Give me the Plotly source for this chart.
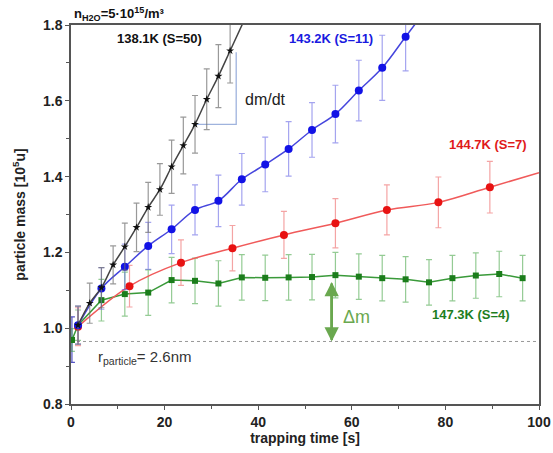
import plotly.graph_objects as go

# ---------------- data ----------------
black_x = [1.5, 4, 6.5, 9, 11.5, 14, 16.5, 19, 21.5, 24, 26.5, 29, 31.5, 34]
black_y = [1.008, 1.066, 1.107, 1.167, 1.215, 1.266, 1.319, 1.366, 1.426, 1.482, 1.538, 1.604, 1.665, 1.732]
black_e = [0.05, 0.053, 0.053, 0.05, 0.062, 0.064, 0.066, 0.068, 0.07, 0.075, 0.076, 0.08, 0.083, 0.085]

blue_x = [0.2, 1.5, 6.5, 11.5, 16.5, 21.5, 26.5, 31.5, 36.5, 41.5, 46.5, 51.5, 56.5, 61.5, 66.5, 71.5]
blue_y = [0.97, 1.008, 1.105, 1.162, 1.217, 1.261, 1.312, 1.336, 1.393, 1.432, 1.473, 1.523, 1.565, 1.627, 1.687, 1.769]
blue_e = [0.06, 0.05, 0.055, 0.06, 0.062, 0.064, 0.066, 0.068, 0.068, 0.072, 0.072, 0.072, 0.076, 0.08, 0.086, 0.09]

red_x = [1.5, 12.5, 23.5, 34.5, 45.5, 56.5, 67.5, 78.5, 89.5]
red_y = [1.004, 1.111, 1.173, 1.211, 1.246, 1.277, 1.312, 1.332, 1.372]
red_e = [0.05, 0.055, 0.06, 0.06, 0.062, 0.065, 0.066, 0.067, 0.068]

green_x = [0.2, 1.5, 6.5, 11.5, 16.5, 21.5, 26.5, 31.5, 36.5, 41.5, 46.5, 51.5, 56.5,
           61.5, 66.5, 71.5, 76.5, 81.5, 86.5, 91.5, 96.5]
green_y = [0.969, 1.008, 1.074, 1.09, 1.094, 1.127, 1.125, 1.118, 1.134, 1.133, 1.134, 1.135,
           1.140, 1.136, 1.132, 1.129, 1.121, 1.132, 1.139, 1.143, 1.132]
green_e = [0.03, 0.04, 0.055, 0.058, 0.06, 0.06, 0.06, 0.06, 0.06, 0.06, 0.06, 0.06, 0.06,
           0.06, 0.06, 0.06, 0.06, 0.06, 0.06, 0.06, 0.06]

baseline = 0.965
x_ticks = [0, 20, 40, 60, 80, 100]
y_ticks = [0.8, 1.0, 1.2, 1.4, 1.6, 1.8]

FONT = "Arial, Liberation Sans, sans-serif"


def extend(xs, ys, dx):
    """continue the fit line past the last point with the slope of the last segment"""
    slope = (ys[-1] - ys[-2]) / (xs[-1] - xs[-2])
    return xs + [xs[-1] + dx], ys + [ys[-1] + slope * dx]


fig = go.Figure()

# baseline (dotted)
fig.add_trace(go.Scatter(x=[0, 100], y=[baseline, baseline], mode="lines",
                         line=dict(color="#999999", width=1, dash="dot"),
                         hoverinfo="skip", showlegend=False))

# slope triangle for dm/dt
fig.add_trace(go.Scatter(x=[black_x[10], 35.3, 35.3], y=[black_y[10], black_y[10], 1.728],
                         mode="lines", line=dict(color="#9fb3dd", width=1.3),
                         hoverinfo="skip", showlegend=False))

series = [
    # x, y, err, line colour, marker colour, err colour, symbol, size, shape, ext dx
    (green_x, green_y, green_e, "#3a9a3a", "#1b7d1b", "rgba(60,160,60,0.55)", "square", 6, "linear", 0),
    (red_x, red_y, red_e, "#f05a5a", "#e81212", "rgba(235,90,90,0.55)", "circle", 8, "spline", 10.5),
    (blue_x[1:], blue_y[1:], blue_e[1:], "#4545dd", "#1212e6", "rgba(90,90,225,0.55)", "circle", 8, "spline", 6),
    (black_x, black_y, black_e, "#444444", "#111111", "rgba(110,110,110,0.7)", "star", 6, "spline", 6),
]

# extra blue bar at t~0 (hidden behind green)
fig.add_trace(go.Scatter(x=blue_x[:1], y=blue_y[:1], mode="markers",
                         marker=dict(color="#1212e6", size=5, symbol="circle"),
                         error_y=dict(type="data", array=blue_e[:1], color="rgba(40,40,180,0.8)",
                                      thickness=1.2, width=3),
                         showlegend=False))

for xs, ys, es, lc, mc, ec, sym, sz, shape, dx in series:
    lx, ly = (extend(list(xs), list(ys), dx) if dx else (list(xs), list(ys)))
    fig.add_trace(go.Scatter(x=lx, y=ly, mode="lines",
                             line=dict(color=lc, width=1.5, shape=shape, smoothing=1.0),
                             hoverinfo="skip", showlegend=False))
    fig.add_trace(go.Scatter(x=xs, y=ys, mode="markers",
                             marker=dict(color=mc, size=sz, symbol=sym, line=dict(width=0)),
                             error_y=dict(type="data", array=es, color=ec, thickness=1.2, width=3),
                             showlegend=False))

# green point at t=0
fig.add_trace(go.Scatter(x=green_x[:1], y=green_y[:1], mode="markers",
                         marker=dict(color="#1b7d1b", size=6, symbol="square"),
                         showlegend=False))

# Δm arrow
fig.add_annotation(x=55.7, y=baseline, ax=55.7, ay=1.122, xref="x", yref="y", axref="x", ayref="y",
                   text="", showarrow=True, arrowhead=2, arrowsize=1.1, arrowwidth=2.6,
                   arrowcolor="#6aa84f")
fig.add_annotation(x=55.7, y=1.122, ax=55.7, ay=baseline, xref="x", yref="y", axref="x", ayref="y",
                   text="", showarrow=True, arrowhead=2, arrowsize=1.1, arrowwidth=2.6,
                   arrowcolor="#6aa84f")

annots = [
    dict(x=19, y=1.765, text="<b>138.1K (S=50)</b>", color="#111111", size=13),
    dict(x=55.5, y=1.765, text="<b>143.2K (S=11)</b>", color="#1a1ae0", size=13),
    dict(x=89, y=1.486, text="<b>144.7K (S=7)</b>", color="#e01a1a", size=13),
    dict(x=85.5, y=1.035, text="<b>147.3K (S=4)</b>", color="#1e7e1e", size=13),
    dict(x=41.5, y=1.603, text="dm/dt", color="#222222", size=16),
    dict(x=61, y=1.03, text="Δm", color="#6aa84f", size=18),
    dict(x=15.8, y=0.922, text="r<sub>particle</sub>= 2.6nm", color="#333333", size=15),
]
for a in annots:
    fig.add_annotation(x=a["x"], y=a["y"], xref="x", yref="y", text=a["text"], showarrow=False,
                       font=dict(family=FONT, size=a["size"], color=a["color"]))

fig.add_annotation(x=0.003, y=1.0, xref="paper", yref="paper", xanchor="left", yanchor="bottom",
                   text="<b>n<sub>H2O</sub>=5·10<sup>15</sup>/m³</b>", showarrow=False,
                   font=dict(family=FONT, size=13, color="#111111"))

axis_common = dict(showline=True, linecolor="#555555", linewidth=1.5, mirror=True,
                   ticks="outside", ticklen=4, tickwidth=1.2, tickcolor="#555555",
                   showgrid=False, zeroline=False, automargin=False,
                   tickfont=dict(family=FONT, size=14, color="#222222", weight="bold"),
                   minor=dict(ticks="outside", ticklen=3, tickcolor="#555555", tickwidth=1))

fig.update_xaxes(range=[0, 100], tickvals=x_ticks, ticktext=[str(v) for v in x_ticks],
                 title=dict(text="<b>trapping time [s]</b>", standoff=0,
                            font=dict(family=FONT, size=14, color="#222222")),
                 minor_dtick=10, **axis_common)
fig.update_yaxes(range=[0.8, 1.8], tickvals=y_ticks, ticktext=[f"{v:.1f}" for v in y_ticks],
                 title=dict(text="<b>particle mass [10<sup>5</sup>u]</b>", standoff=14,
                            font=dict(family=FONT, size=14, color="#222222")),
                 minor_dtick=0.1, **axis_common)

fig.update_layout(width=553, height=453, autosize=False,
                  margin=dict(l=71, r=14, t=25, b=49),
                  paper_bgcolor="white", plot_bgcolor="white",
                  font=dict(family=FONT))

# remove the browser's default 8px page margin so the figure sits at the window origin
fig.write_html("out.html", config={"displayModeBar": False},
               post_script="document.body.style.margin='0';document.body.style.overflow='hidden';")
